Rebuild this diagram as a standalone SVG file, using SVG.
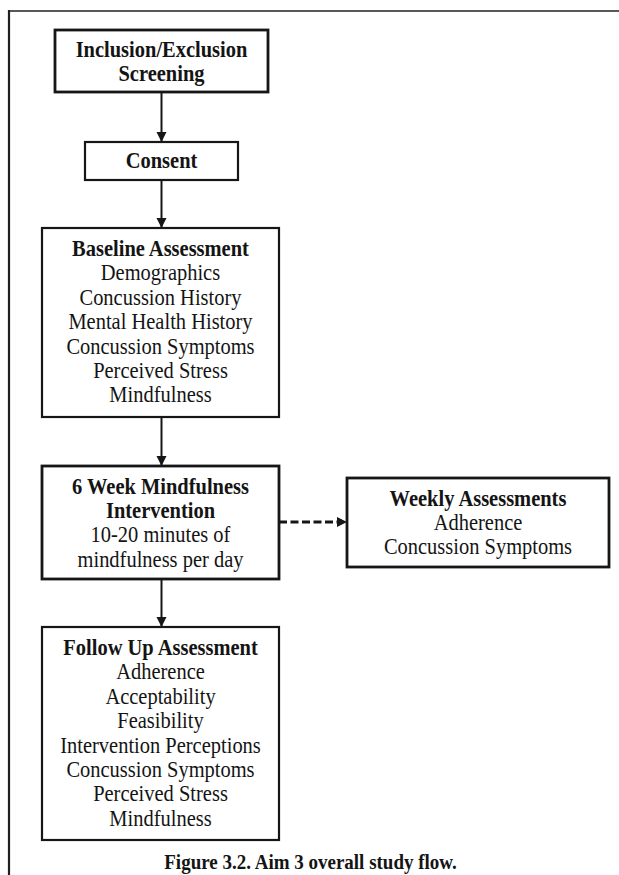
<svg xmlns="http://www.w3.org/2000/svg" width="619" height="875" viewBox="0 0 619 875">
  <style>
    .box { fill: #ffffff; stroke: #161616; stroke-width: 2.2; }
    .thick { stroke-width: 2.8; }
    .t { font-family: "Liberation Serif", "Times New Roman", serif; font-size: 22.5px; fill: #141414; text-anchor: middle; }
    .b { font-weight: bold; }
    .frame { stroke: #202020; fill: none; }
    .link { stroke: #161616; stroke-width: 2; fill: none; }
    .dash { stroke: #161616; stroke-width: 3; stroke-dasharray: 8 3.5; fill: none; }
  </style>
  <defs>
    <marker id="head" markerUnits="userSpaceOnUse" markerWidth="12" markerHeight="12" refX="10" refY="5" orient="auto">
      <path d="M0,0 L10,5 L0,10 Z" fill="#161616"/>
    </marker>
  </defs>

  <rect width="619" height="875" fill="#ffffff"/>

  <!-- page frame -->
  <g id="frame">
    <line class="frame" x1="9" y1="11" x2="619" y2="11" stroke-width="1.6"/>
    <line class="frame" x1="9" y1="10" x2="9" y2="875" stroke-width="2.2"/>
  </g>

  <!-- connectors -->
  <g id="connectors">
    <path class="link" d="M161.5,92 V142" marker-end="url(#head)"/>
    <path class="link" d="M161.5,180 V228" marker-end="url(#head)"/>
    <path class="link" d="M161.5,417 V466" marker-end="url(#head)"/>
    <path class="link" d="M161.5,579 V627" marker-end="url(#head)"/>
    <path class="dash" d="M279,522 H339"/>
    <path d="M337,517 L347,522 L337,527 Z" fill="#161616"/>
  </g>

  <g id="screening">
    <rect class="box thick" x="55" y="30" width="213" height="62"/>
    <g transform="translate(161.5 0) scale(0.91 1)">
      <text class="t b" x="0" y="57">Inclusion/Exclusion</text>
      <text class="t b" x="0" y="81.5">Screening</text>
    </g>
  </g>

  <g id="consent">
    <rect class="box" x="85" y="142" width="153" height="38"/>
    <g transform="translate(161.5 0) scale(0.91 1)">
      <text class="t b" x="0" y="168">Consent</text>
    </g>
  </g>

  <g id="baseline">
    <rect class="box" x="42" y="228" width="237" height="189"/>
    <g transform="translate(160.5 0) scale(0.91 1)">
      <text class="t b" x="0" y="256">Baseline Assessment</text>
      <text class="t" x="0" y="280.4">Demographics</text>
      <text class="t" x="0" y="304.8">Concussion History</text>
      <text class="t" x="0" y="329.2">Mental Health History</text>
      <text class="t" x="0" y="353.6">Concussion Symptoms</text>
      <text class="t" x="0" y="378">Perceived Stress</text>
      <text class="t" x="0" y="402.4">Mindfulness</text>
    </g>
  </g>

  <g id="intervention">
    <rect class="box thick" x="42" y="466" width="237" height="113"/>
    <g transform="translate(160.5 0) scale(0.91 1)">
      <text class="t b" x="0" y="494">6 Week Mindfulness</text>
      <text class="t b" x="0" y="518.2">Intervention</text>
      <text class="t" x="0" y="542.4">10-20 minutes of</text>
      <text class="t" x="0" y="566.6">mindfulness per day</text>
    </g>
  </g>

  <g id="weekly">
    <rect class="box thick" x="347" y="478" width="262" height="89"/>
    <g transform="translate(478 0) scale(0.91 1)">
      <text class="t b" x="0" y="506">Weekly Assessments</text>
      <text class="t" x="0" y="530">Adherence</text>
      <text class="t" x="0" y="554">Concussion Symptoms</text>
    </g>
  </g>

  <g id="followup">
    <rect class="box" x="42" y="627" width="237" height="213"/>
    <g transform="translate(160.5 0) scale(0.91 1)">
      <text class="t b" x="0" y="655">Follow Up Assessment</text>
      <text class="t" x="0" y="679.4">Adherence</text>
      <text class="t" x="0" y="703.8">Acceptability</text>
      <text class="t" x="0" y="728.2">Feasibility</text>
      <text class="t" x="0" y="752.6">Intervention Perceptions</text>
      <text class="t" x="0" y="777">Concussion Symptoms</text>
      <text class="t" x="0" y="801.4">Perceived Stress</text>
      <text class="t" x="0" y="825.8">Mindfulness</text>
    </g>
  </g>

  <g id="caption" transform="translate(310.5 0) scale(0.905 1)">
    <text class="t b" x="0" y="869" style="font-size:21px">Figure 3.2. Aim 3 overall study flow.</text>
  </g>
</svg>
